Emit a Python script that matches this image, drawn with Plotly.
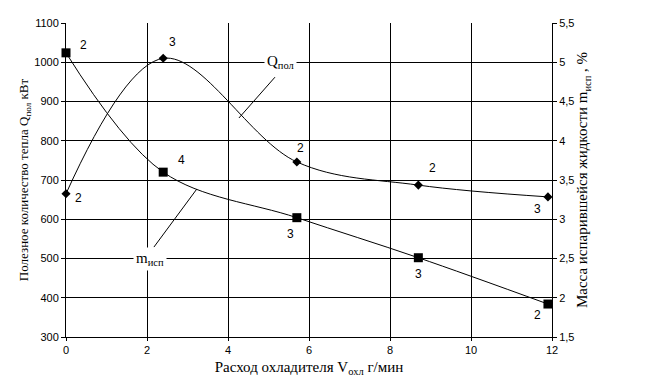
import plotly.graph_objects as go

# Data
x_flow = [0, 2.4, 5.7, 8.7, 11.9]
q_useful = [665, 1010, 746, 687, 657]          # кВт, left axis
m_evap = [5.12, 3.60, 3.02, 2.51, 1.92]         # %, right axis
q_labels = ["2", "3", "2", "2", "3"]
m_labels = ["2", "4", "3", "3", "2"]

x_ticks = [0, 2, 4, 6, 8, 10, 12]
y1_ticks = [300, 400, 500, 600, 700, 800, 900, 1000, 1100]
y2_ticks = [1.5, 2, 2.5, 3, 3.5, 4, 4.5, 5, 5.5]
y2_text = ["1,5", "2", "2,5", "3", "3,5", "4", "4,5", "5", "5,5"]

# label offsets (pixels) for point numbers
q_off = [(12, -4), (9, 16), (4, 14), (14, 17), (-10, -12)]
m_off = [(17, 8), (18, 12), (-6, -16), (0, -16), (-10, -11)]

SANS = "Liberation Sans, Arial, sans-serif"
SERIF = "Liberation Serif, Times New Roman, serif"

fig = go.Figure()
fig.add_trace(go.Scatter(
    x=x_flow, y=q_useful, mode="lines+markers",
    line=dict(color="black", width=1, shape="spline", smoothing=1.0),
    marker=dict(symbol="diamond", size=7, color="black"),
    cliponaxis=False, showlegend=False, yaxis="y"))
fig.add_trace(go.Scatter(
    x=x_flow, y=m_evap, mode="lines+markers",
    line=dict(color="black", width=1, shape="spline", smoothing=1.0),
    marker=dict(symbol="square", size=9, color="black"),
    cliponaxis=False, showlegend=False, yaxis="y2"))

ann = []
for xv, yv, t, (dx, dy) in zip(x_flow, q_useful, q_labels, q_off):
    ann.append(dict(x=xv, y=yv, xref="x", yref="y", text=t, showarrow=False,
                    xshift=dx, yshift=dy, font=dict(family=SANS, size=12, color="black")))
for xv, yv, t, (dx, dy) in zip(x_flow, m_evap, m_labels, m_off):
    ann.append(dict(x=xv, y=yv, xref="x", yref="y2", text=t, showarrow=False,
                    xshift=dx, yshift=dy, font=dict(family=SANS, size=12, color="black")))

# curve name labels
ann.append(dict(x=5.3, y=1000, xref="x", yref="y", text="Q<sub>пол</sub>", showarrow=False,
                bgcolor="white", borderpad=2, font=dict(family=SERIF, size=15, color="black")))
ann.append(dict(x=2.07, y=500, xref="x", yref="y", text="m<sub>исп</sub>", showarrow=False,
                bgcolor="white", borderpad=2, font=dict(family=SERIF, size=15, color="black")))

# leader lines
leaders = [((4.27, 858), (5.16, 962)), ((2.17, 529), (3.23, 677))]
shapes = [dict(type="line", xref="x", yref="y", x0=a[0], y0=a[1], x1=b[0], y1=b[1],
               line=dict(color="black", width=1)) for a, b in leaders]

fig.update_layout(
    width=649, height=387,
    margin=dict(l=66, r=97, t=23, b=50),
    plot_bgcolor="white", paper_bgcolor="white",
    annotations=ann, shapes=shapes,
    xaxis=dict(range=[0, 12], tickvals=x_ticks, showgrid=True, gridcolor="black", gridwidth=1,
               showline=True, linecolor="black", linewidth=1, ticks="outside", ticklen=3,
               tickcolor="black", zeroline=False,
               tickfont=dict(family=SANS, size=11, color="black"),
               title=dict(text="Расход охладителя V<sub>охл</sub> г/мин", standoff=6,
                          font=dict(family=SERIF, size=15, color="black"))),
    yaxis=dict(range=[300, 1100], tickvals=y1_ticks, showgrid=True, gridcolor="black", gridwidth=1,
               showline=True, linecolor="black", linewidth=1, ticks="outside", ticklen=4,
               tickcolor="black", zeroline=False,
               tickfont=dict(family=SANS, size=11, color="black"),
               title=dict(text="Полезное количество тепла Q<sub>пол</sub> кВт", standoff=2,
                          font=dict(family=SERIF, size=13, color="black"))),
    yaxis2=dict(range=[1.5, 5.5], tickvals=y2_ticks, ticktext=y2_text, overlaying="y", side="right",
                showgrid=False, showline=True, linecolor="black", linewidth=1, ticks="outside",
                ticklen=4, tickcolor="black", zeroline=False,
                tickfont=dict(family=SANS, size=11, color="black"),
                title=dict(text="Масса испарившейся жидкости m<sub>исп</sub> , %", standoff=0,
                           font=dict(family=SERIF, size=15, color="black"))),
)

fig.write_html("out.html")
